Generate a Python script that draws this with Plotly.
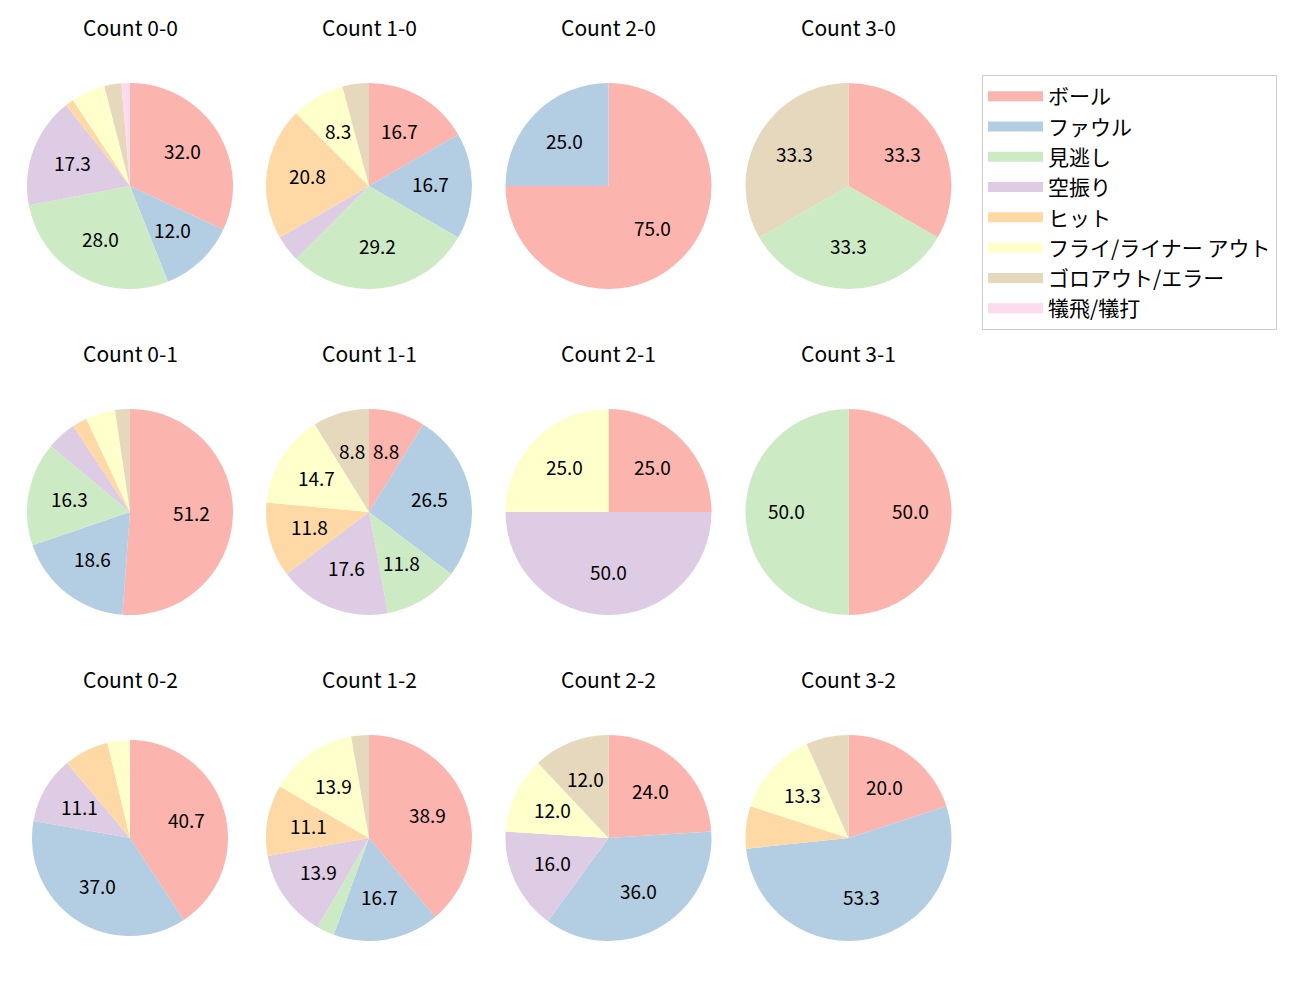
import math
import plotly.graph_objects as go

# ---------------- data ----------------
categories = ["ボール", "ファウル", "見逃し", "空振り", "ヒット",
              "フライ/ライナー アウト", "ゴロアウト/エラー", "犠飛/犠打"]
colors = ["#FBB4AE", "#B3CDE3", "#CCEBC5", "#DECBE4",
          "#FED9A6", "#FFFFCC", "#E5D8BD", "#FDDAEC"]

titles = ["Count 0-0", "Count 1-0", "Count 2-0", "Count 3-0",
          "Count 0-1", "Count 1-1", "Count 2-1", "Count 3-1",
          "Count 0-2", "Count 1-2", "Count 2-2", "Count 3-2"]

# counts per category (same order as `categories`)
count_0_0 = [24, 9, 21, 13, 1, 4, 2, 1]
count_1_0 = [4, 4, 7, 1, 5, 2, 1, 0]
count_2_0 = [3, 1, 0, 0, 0, 0, 0, 0]
count_3_0 = [1, 0, 1, 0, 0, 0, 1, 0]
count_0_1 = [22, 8, 7, 2, 1, 2, 1, 0]
count_1_1 = [3, 9, 4, 6, 4, 5, 3, 0]
count_2_1 = [1, 0, 0, 2, 0, 1, 0, 0]
count_3_1 = [1, 0, 1, 0, 0, 0, 0, 0]
count_0_2 = [11, 10, 0, 3, 2, 1, 0, 0]
count_1_2 = [14, 6, 1, 5, 4, 5, 1, 0]
count_2_2 = [6, 9, 0, 4, 0, 3, 3, 0]
count_3_2 = [3, 8, 0, 0, 1, 2, 1, 0]

all_counts = [count_0_0, count_1_0, count_2_0, count_3_0,
              count_0_1, count_1_1, count_2_1, count_3_1,
              count_0_2, count_1_2, count_2_2, count_3_2]

# ---------------- layout constants ----------------
W, H = 1300, 1000
col_cx = [130, 369, 608.5, 848.5]
row_cy = [186, 512, 838]
radius = [103] * 12
radius[8] = 98
label_dist = 0.6
min_pct = 8.0
FONT = "Noto Sans CJK JP"

fig = go.Figure()
annotations = []

for i, (title, vals) in enumerate(zip(titles, all_counts)):
    r_i, c_i = divmod(i, 4)
    cx, cy, r = col_cx[c_i], row_cy[r_i], radius[i]
    fig.add_trace(go.Pie(
        labels=categories, values=vals,
        marker=dict(colors=colors, line=dict(width=0)),
        sort=False, direction="clockwise", rotation=0,
        textinfo="none", showlegend=False, hoverinfo="label+percent",
        domain=dict(x=[(cx - r) / W, (cx + r) / W],
                    y=[1 - (cy + r) / H, 1 - (cy - r) / H]),
    ))
    total = sum(vals)
    cum = 0
    for v in vals:
        if v > 0:
            pct = 100.0 * v / total
            mid = (cum + v / 2) / total
            th = 2 * math.pi * mid
            if pct >= min_pct:
                px = cx + label_dist * r * math.sin(th)
                py = cy - label_dist * r * math.cos(th)
                annotations.append(dict(
                    x=px / W, y=1 - py / H, xref="paper", yref="paper",
                    text=f"{pct:.1f}", showarrow=False,
                    xanchor="center", yanchor="middle", yshift=2,
                    font=dict(family=FONT, size=19, color="#000000")))
        cum += v
    annotations.append(dict(
        x=cx / W, y=1 - (cy - 158) / H, xref="paper", yref="paper",
        text=title, showarrow=False, xanchor="center", yanchor="middle",
        yshift=1,
        font=dict(family=FONT, size=21, color="#000000")))

# legend entries
for i, (cat, col) in enumerate(zip(categories, colors)):
    fig.add_trace(go.Scatter(
        x=[None], y=[None], mode="lines", name=cat,
        line=dict(color=col, width=15), legendgroup=str(i),
        showlegend=True, hoverinfo="skip"))

fig.update_layout(
    width=W, height=H,
    margin=dict(l=0, r=0, t=0, b=0),
    paper_bgcolor="white", plot_bgcolor="white",
    xaxis=dict(visible=False), yaxis=dict(visible=False),
    annotations=annotations,
    legend=dict(x=982 / W, y=1 - 75 / H, xanchor="left", yanchor="top",
                bordercolor="#CCCCCC", borderwidth=1, bgcolor="white",
                font=dict(family=FONT, size=21, color="#000000"),
                tracegroupgap=0, itemwidth=55),
    font=dict(family=FONT),
)

fig.write_html("out.html", config={"displayModeBar": False},
               post_script="document.body.style.margin='0';")
